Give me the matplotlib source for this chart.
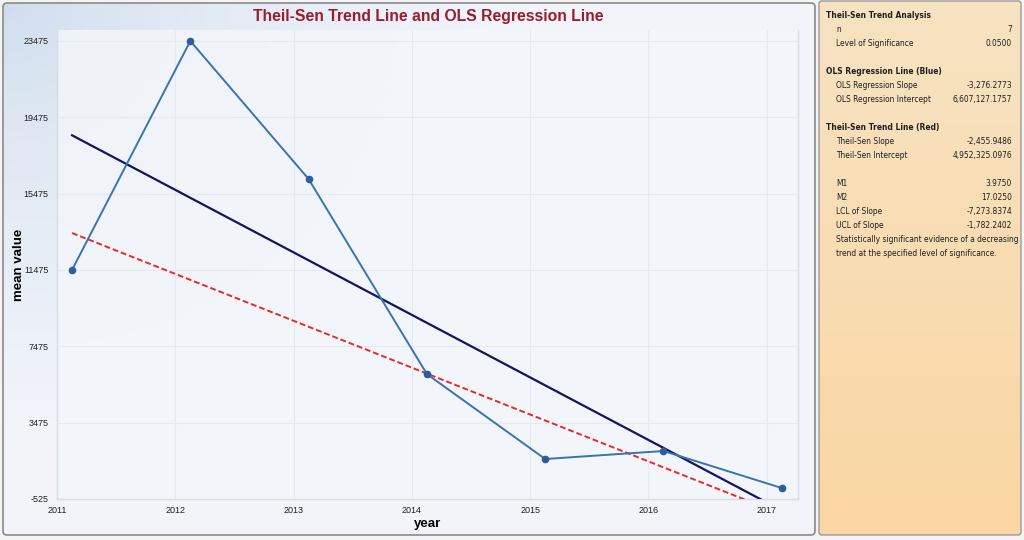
import numpy as np
import matplotlib.pyplot as plt
from matplotlib.patches import FancyBboxPatch

years = [2011, 2012, 2013, 2014, 2015, 2016, 2017]
mean_value = [11475, 23475, 16240, 6020, 1570, 1990, 50]

ols_slope = -3276.2773
ols_intercept = 6607127.1757
ts_slope = -2455.9486
ts_intercept = 4952325.0976

yticks = [-525, 3475, 7475, 11475, 15475, 19475, 23475]

stats = [
    ("Theil-Sen Trend Analysis", None, True),
    ("n", "7", False),
    ("Level of Significance", "0.0500", False),
    (None, None, False),
    ("OLS Regression Line (Blue)", None, True),
    ("OLS Regression Slope", "-3,276.2773", False),
    ("OLS Regression Intercept", "6,607,127.1757", False),
    (None, None, False),
    ("Theil-Sen Trend Line (Red)", None, True),
    ("Theil-Sen Slope", "-2,455.9486", False),
    ("Theil-Sen Intercept", "4,952,325.0976", False),
    (None, None, False),
    ("M1", "3.9750", False),
    ("M2", "17.0250", False),
    ("LCL of Slope", "-7,273.8374", False),
    ("UCL of Slope", "-1,782.2402", False),
    ("Statistically significant evidence of a decreasing", None, False),
    ("trend at the specified level of significance.", None, False),
]

plt.rcParams['font.family'] = ['Liberation Sans', 'DejaVu Sans']

W, H = 1024, 540
fig = plt.figure(figsize=(W / 100, H / 100), dpi=100)
fig.patch.set_facecolor('#f4f4f4')

# background panels
bg = fig.add_axes([0, 0, 1, 1])
bg.set_xlim(0, W)
bg.set_ylim(H, 0)
bg.axis('off')

# gradient for the chart panel (bluish top-left)
gx, gy = np.meshgrid(np.linspace(0, 1, 200), np.linspace(0, 1, 120))
d = np.clip(np.sqrt((gx * 1.6) ** 2 + (gy * 1.2) ** 2), 0, 1)
c0 = np.array([0.80, 0.86, 0.93])
c1 = np.array([0.95, 0.96, 0.98])
img = c0 + (c1 - c0) * d[..., None] ** 0.6
bg.imshow(img, extent=[3, 815, 535, 3], aspect='auto', zorder=0)
bg.add_patch(FancyBboxPatch((3, 3), 812, 532, boxstyle='round,pad=0,rounding_size=4',
                            fc='none', ec='#8a8a8a', lw=1.2, zorder=1))

# tan side panel
tg = np.linspace(0, 1, 100)[:, None]
t0 = np.array([0.97, 0.89, 0.76])
t1 = np.array([0.98, 0.84, 0.64])
timg = np.repeat((t0 + (t1 - t0) * tg[..., None]), 2, axis=1)
bg.imshow(timg, extent=[819, 1021, 535, 1], aspect='auto', zorder=0)
bg.add_patch(FancyBboxPatch((819, 1), 202, 534, boxstyle='round,pad=0,rounding_size=3',
                            fc='none', ec='#9a9a9a', lw=1.0, zorder=1))

# stats text (condensed face, like the narrow font of the original)
row_h = 14.05
for i, (label, val, bold) in enumerate(stats):
    if label is None:
        continue
    y = 15 + i * row_h
    x = 826 if bold else 836
    bg.text(x, y, label, family='DejaVu Sans', fontstretch='condensed', fontsize=6.0,
            va='center', ha='left', fontweight='bold' if bold else 'normal', color='#202020')
    if val is not None:
        bg.text(1012, y, val, family='DejaVu Sans', fontstretch='condensed', fontsize=6.0,
                va='center', ha='right', color='#202020')

# main axes
ax = fig.add_axes([57 / W, 1 - 499 / H, 741 / W, 469 / H])
ax.set_facecolor('#f3f6fa')
ax.patch.set_alpha(0.85)

xs = np.array([years[0], years[-1]])
ax.plot(xs, ols_intercept + ols_slope * xs, color='#141460', lw=1.6, zorder=3)
ax.plot(xs, ts_intercept + ts_slope * xs, color='#e8282a', lw=1.4, ls=(0, (3, 1.5)), zorder=3)
ax.plot(years, mean_value, color='#3b73ad', lw=1.4, marker='o', ms=4.5,
        mfc='#2f5d9a', mec='#2f5d9a', zorder=4)

# offset so the year ticks sit where the original chart draws them
tick_offset = 0.127
ax.set_xlim(2011 - tick_offset, 2017.137)
ax.set_ylim(-525, 24050)
ax.set_xticks([y - tick_offset for y in years])
ax.set_xticklabels([str(y) for y in years])
ax.set_yticks(yticks)
ax.set_yticklabels([str(v) for v in yticks])
ax.tick_params(axis='both', length=0, labelsize=6.5, colors='#202020')
ax.tick_params(axis='y', pad=6)
ax.tick_params(axis='x', pad=5)
ax.grid(True, color='#e6e9ee', lw=0.8)
ax.set_axisbelow(True)
for s in ax.spines.values():
    s.set_color('#d8dde3')
    s.set_linewidth(1.0)
ax.spines['top'].set_visible(False)

ax.set_xlabel('year', fontsize=9.5, fontweight='bold', labelpad=2)
ax.set_ylabel('mean value', fontsize=9.5, fontweight='bold')
ax.yaxis.set_label_coords(-0.043, 0.5)
fig.text(428 / W, 1 - 17 / H, 'Theil-Sen Trend Line and OLS Regression Line',
         ha='center', va='center', fontsize=11.3, fontweight='bold', color='#9b1c2e')

fig.savefig('out.png', dpi=100)
